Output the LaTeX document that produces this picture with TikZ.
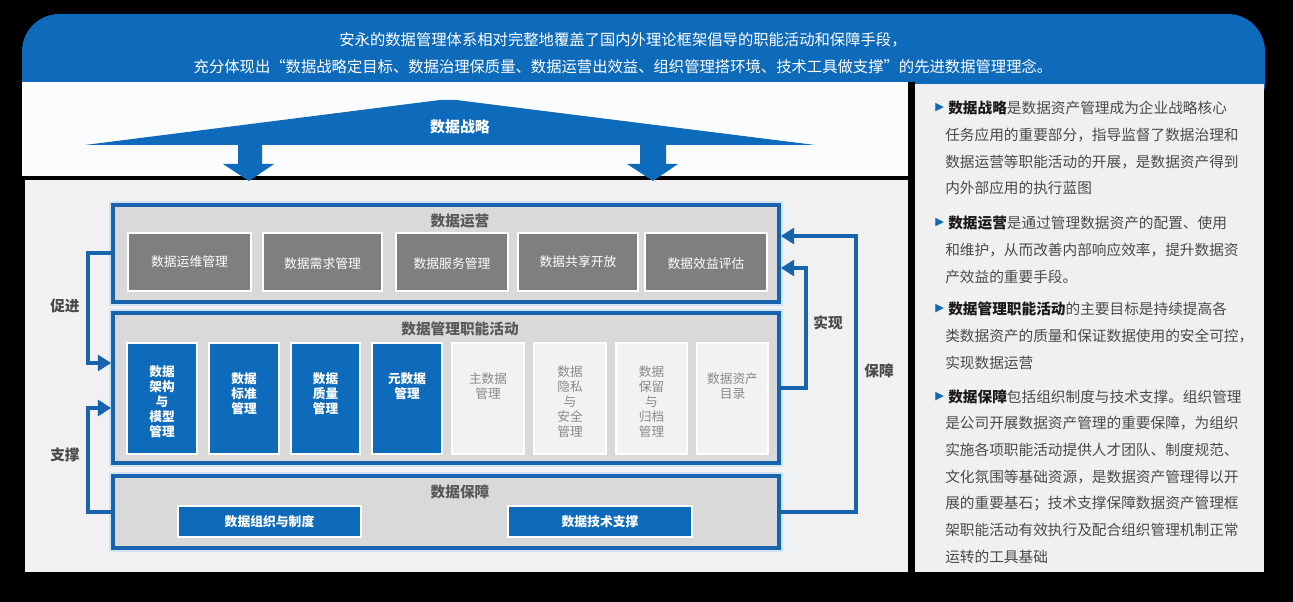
\documentclass[tikz,border=0pt]{standalone}
\usepackage{fontspec}
\setmainfont{Noto Sans CJK SC}
\newfontfamily\symfont{DejaVu Sans}
\usetikzlibrary{arrows.meta,fit}
\definecolor{bmain}{HTML}{0E6BBC}
\definecolor{bline}{HTML}{1763AE}
\definecolor{halo}{HTML}{CFE4F6}
\definecolor{framefill}{HTML}{D9D9D9}
\definecolor{opsgray}{HTML}{7F7F7F}
\definecolor{litebox}{HTML}{F2F2F2}
\definecolor{litetext}{HTML}{8A8A8A}
\definecolor{titlegray}{HTML}{595959}
\definecolor{panelbg}{HTML}{F0F0F0}
\definecolor{mainbg}{HTML}{F1F1F1}
\definecolor{bodytext}{HTML}{4A4A4A}
\definecolor{keytext}{HTML}{1A1A1A}
\definecolor{whitearea}{HTML}{FBFCFE}
\tikzset{
  frame/.style={fill=framefill, draw=bline, line width=2.8pt, preaction={draw=halo, line width=5.8pt}, inner sep=0pt},
  opsbox/.style={fill=opsgray, draw=white, line width=1.5pt, inner sep=0pt},
  opstext/.style={inner sep=0pt, text=white, font=\fontsize{9.6}{11}\selectfont},
  colblue/.style={fill=bmain, draw=white, line width=1.5pt, inner sep=0pt},
  collite/.style={fill=litebox, draw=white, line width=1.5pt, inner sep=0pt},
  guarbox/.style={fill=bmain, draw=white, line width=1.5pt, inner sep=0pt},
  guartext/.style={inner sep=0pt, text=white, font=\bfseries\fontsize{9.6}{11}\selectfont},
  conn/.style={draw=bline, line width=3pt, -{Triangle[length=10pt,width=12pt]}},
  frametitle/.style={inner sep=0pt, font=\bfseries\fontsize{11}{13}\selectfont, text=titlegray},
  coltext/.style={align=center, inner sep=0pt, font=\bfseries\fontsize{9.5}{11.25}\selectfont, text=white},
  littext/.style={align=center, inner sep=0pt, font=\fontsize{9.5}{11.25}\selectfont, text=litetext},
  sidelabel/.style={inner sep=0pt, font=\bfseries\fontsize{11}{13}\selectfont, text=bodytext},
  bannertext/.style={font=\fontsize{11.5}{13}\selectfont, text=white, inner sep=0pt},
  pline/.style={anchor=west, inner sep=0pt, font=\fontsize{11}{13}\selectfont, text=bodytext},
  bullet/.style={anchor=west, inner sep=0pt, text=bmain, font=\symfont\fontsize{8.5}{9}\selectfont}
}
\begin{document}
\begin{tikzpicture}[x=0.75pt,y=-0.75pt]
\useasboundingbox (0,0) rectangle (1293,602);
\fill[black] (0,0) rectangle (1293,602);
% banner
\fill[bmain, rounded corners=28pt] (22,120) rectangle (1265,14);
\node[bannertext] (ban1) at (623,40) {安永的数据管理体系相对完整地覆盖了国内外理论框架倡导的职能活动和保障手段，};
\node[bannertext] (ban2) at (623,67) {充分体现出“数据战略定目标、数据治理保质量、数据运营出效益、组织管理搭环境、技术工具做支撑”的先进数据管理理念。};
% white strategy area
\fill[whitearea] (22,82) rectangle (908,176.5);
\fill[black] (908,82) rectangle (915,125);
% main grey area
\fill[mainbg] (25,180) rectangle (908,572);
% right panel
\fill[panelbg] (915,84) rectangle (1264,572);
% strategy triangle
\fill[bmain] (85,145) -- (440,100) -- (456,100) -- (815,145) -- cycle;
\node[inner sep=0pt, font=\bfseries\fontsize{11.2}{13}\selectfont, text=white] (strat) at (460,127) {数据战略};
% down arrows
\fill[bmain] (238,145) -- (262,145) -- (262,164) -- (274,164) -- (249,181) -- (223,164) -- (238,164) -- cycle;
\fill[bmain] (640,145) -- (666,145) -- (666,164) -- (678,164) -- (653,181) -- (627,164) -- (640,164) -- cycle;

% frames
\node[frame, fit={(113,205) (779,302)}] (ops) {};
\node[frame, fit={(113,313) (779,463)}] (func) {};
\node[frame, fit={(113,476) (779,548)}] (guar) {};
\node[frametitle] (opsT) at (460,221) {数据运营};
\node[frametitle] (funcT) at (460,329) {数据管理职能活动};
\node[frametitle] (guarT) at (460,492) {数据保障};

% operations boxes
\node[opsbox, fit={(128,233) (251,291)}] (o1) {};
\node[opsbox, fit={(263,233) (382,291)}] (o2) {};
\node[opsbox, fit={(396,233) (508,291)}] (o3) {};
\node[opsbox, fit={(518,233) (638,291)}] (o4) {};
\node[opsbox, fit={(645,233) (767,291)}] (o5) {};
\node[opstext] (o1t) at (189.5,262) {数据运维管理};
\node[opstext] (o2t) at (322.5,264) {数据需求管理};
\node[opstext] (o3t) at (452,264) {数据服务管理};
\node[opstext] (o4t) at (578,262) {数据共享开放};
\node[opstext] (o5t) at (706,264) {数据效益评估};

% function columns
\node[colblue, fit={(127,343) (197,454)}] (c1) {};
\node[colblue, fit={(209,343) (279,454)}] (c2) {};
\node[colblue, fit={(291,343) (360,454)}] (c3) {};
\node[colblue, fit={(372,343) (442,454)}] (c4) {};
\node[collite, fit={(452,343) (524,454)}] (c5) {};
\node[collite, fit={(534,343) (606,454)}] (c6) {};
\node[collite, fit={(616,343) (687,454)}] (c7) {};
\node[collite, fit={(697,343) (768,454)}] (c8) {};
\node[coltext] (c1t) at (162,402) {数据\\架构\\与\\模型\\管理};
\node[coltext] (c2t) at (244,393.5) {数据\\标准\\管理};
\node[coltext] (c3t) at (325.5,393.5) {数据\\质量\\管理};
\node[coltext] (c4t) at (407,386) {元数据\\管理};
\node[littext] (c5t) at (488,386) {主数据\\管理};
\node[littext] (c6t) at (570,402) {数据\\隐私\\与\\安全\\管理};
\node[littext] (c7t) at (651.5,402) {数据\\保留\\与\\归档\\管理};
\node[littext] (c8t) at (732.5,386) {数据资产\\目录};

% guarantee boxes
\node[guarbox, fit={(178,506) (361,537)}] (g1) {};
\node[guarbox, fit={(508,506) (692,537)}] (g2) {};
\node[guartext] (g1t) at (269.5,521.5) {数据组织与制度};
\node[guartext] (g2t) at (600,521.5) {数据技术支撑};

% connectors
\draw[conn] (ops.west) -- (88,253.5) -- (88,363) -- (func.west |- 0,363);
\draw[conn] (guar.west) -- (88,512) -- (88,408) -- (func.west |- 0,408);
\draw[conn] (func.east) -- (806,388) -- (806,268) -- (ops.east |- 0,268);
\draw[conn] (guar.east) -- (856,512) -- (856,236) -- (ops.east |- 0,236);
\node[sidelabel] (lcj) at (65,306) {促进};
\node[sidelabel] (lzc) at (65,455) {支撑};
\node[sidelabel] (lsx) at (828,323) {实现};
\node[sidelabel] (lbz) at (879,371) {保障};

% right panel text
\node[bullet] (p1b) at (935,108) {▶};
\node[pline] (p1) at (948,108) {\textcolor{keytext}{\bfseries 数据战略}是数据资产管理成为企业战略核心};
\node[pline] (p2) at (945,135) {任务应用的重要部分，指导监督了数据治理和};
\node[pline] (p3) at (945,162) {数据运营等职能活动的开展，是数据资产得到};
\node[pline] (p4) at (945,188) {内外部应用的执行蓝图};
\node[bullet] (p5b) at (935,223) {▶};
\node[pline] (p5) at (948,223) {\textcolor{keytext}{\bfseries 数据运营}是通过管理数据资产的配置、使用};
\node[pline] (p6) at (945,250) {和维护，从而改善内部响应效率，提升数据资};
\node[pline] (p7) at (945,277) {产效益的重要手段。};
\node[bullet] (p8b) at (935,309) {▶};
\node[pline] (p8) at (948,309) {\textcolor{keytext}{\bfseries 数据管理职能活动}的主要目标是持续提高各};
\node[pline] (p9) at (945,336) {类数据资产的质量和保证数据使用的安全可控，};
\node[pline] (p10) at (945,363) {实现数据运营};
\node[bullet] (p11b) at (935,397) {▶};
\node[pline] (p11) at (948,397) {\textcolor{keytext}{\bfseries 数据保障}包括组织制度与技术支撑。组织管理};
\node[pline] (p12) at (945,423) {是公司开展数据资产管理的重要保障，为组织};
\node[pline] (p13) at (945,450) {实施各项职能活动提供人才团队、制度规范、};
\node[pline] (p14) at (945,477) {文化氛围等基础资源，是数据资产管理得以开};
\node[pline] (p15) at (945,503) {展的重要基石；技术支撑保障数据资产管理框};
\node[pline] (p16) at (945,530) {架职能活动有效执行及配合组织管理机制正常};
\node[pline] (p17) at (945,557) {运转的工具基础};
\end{tikzpicture}
\end{document}
